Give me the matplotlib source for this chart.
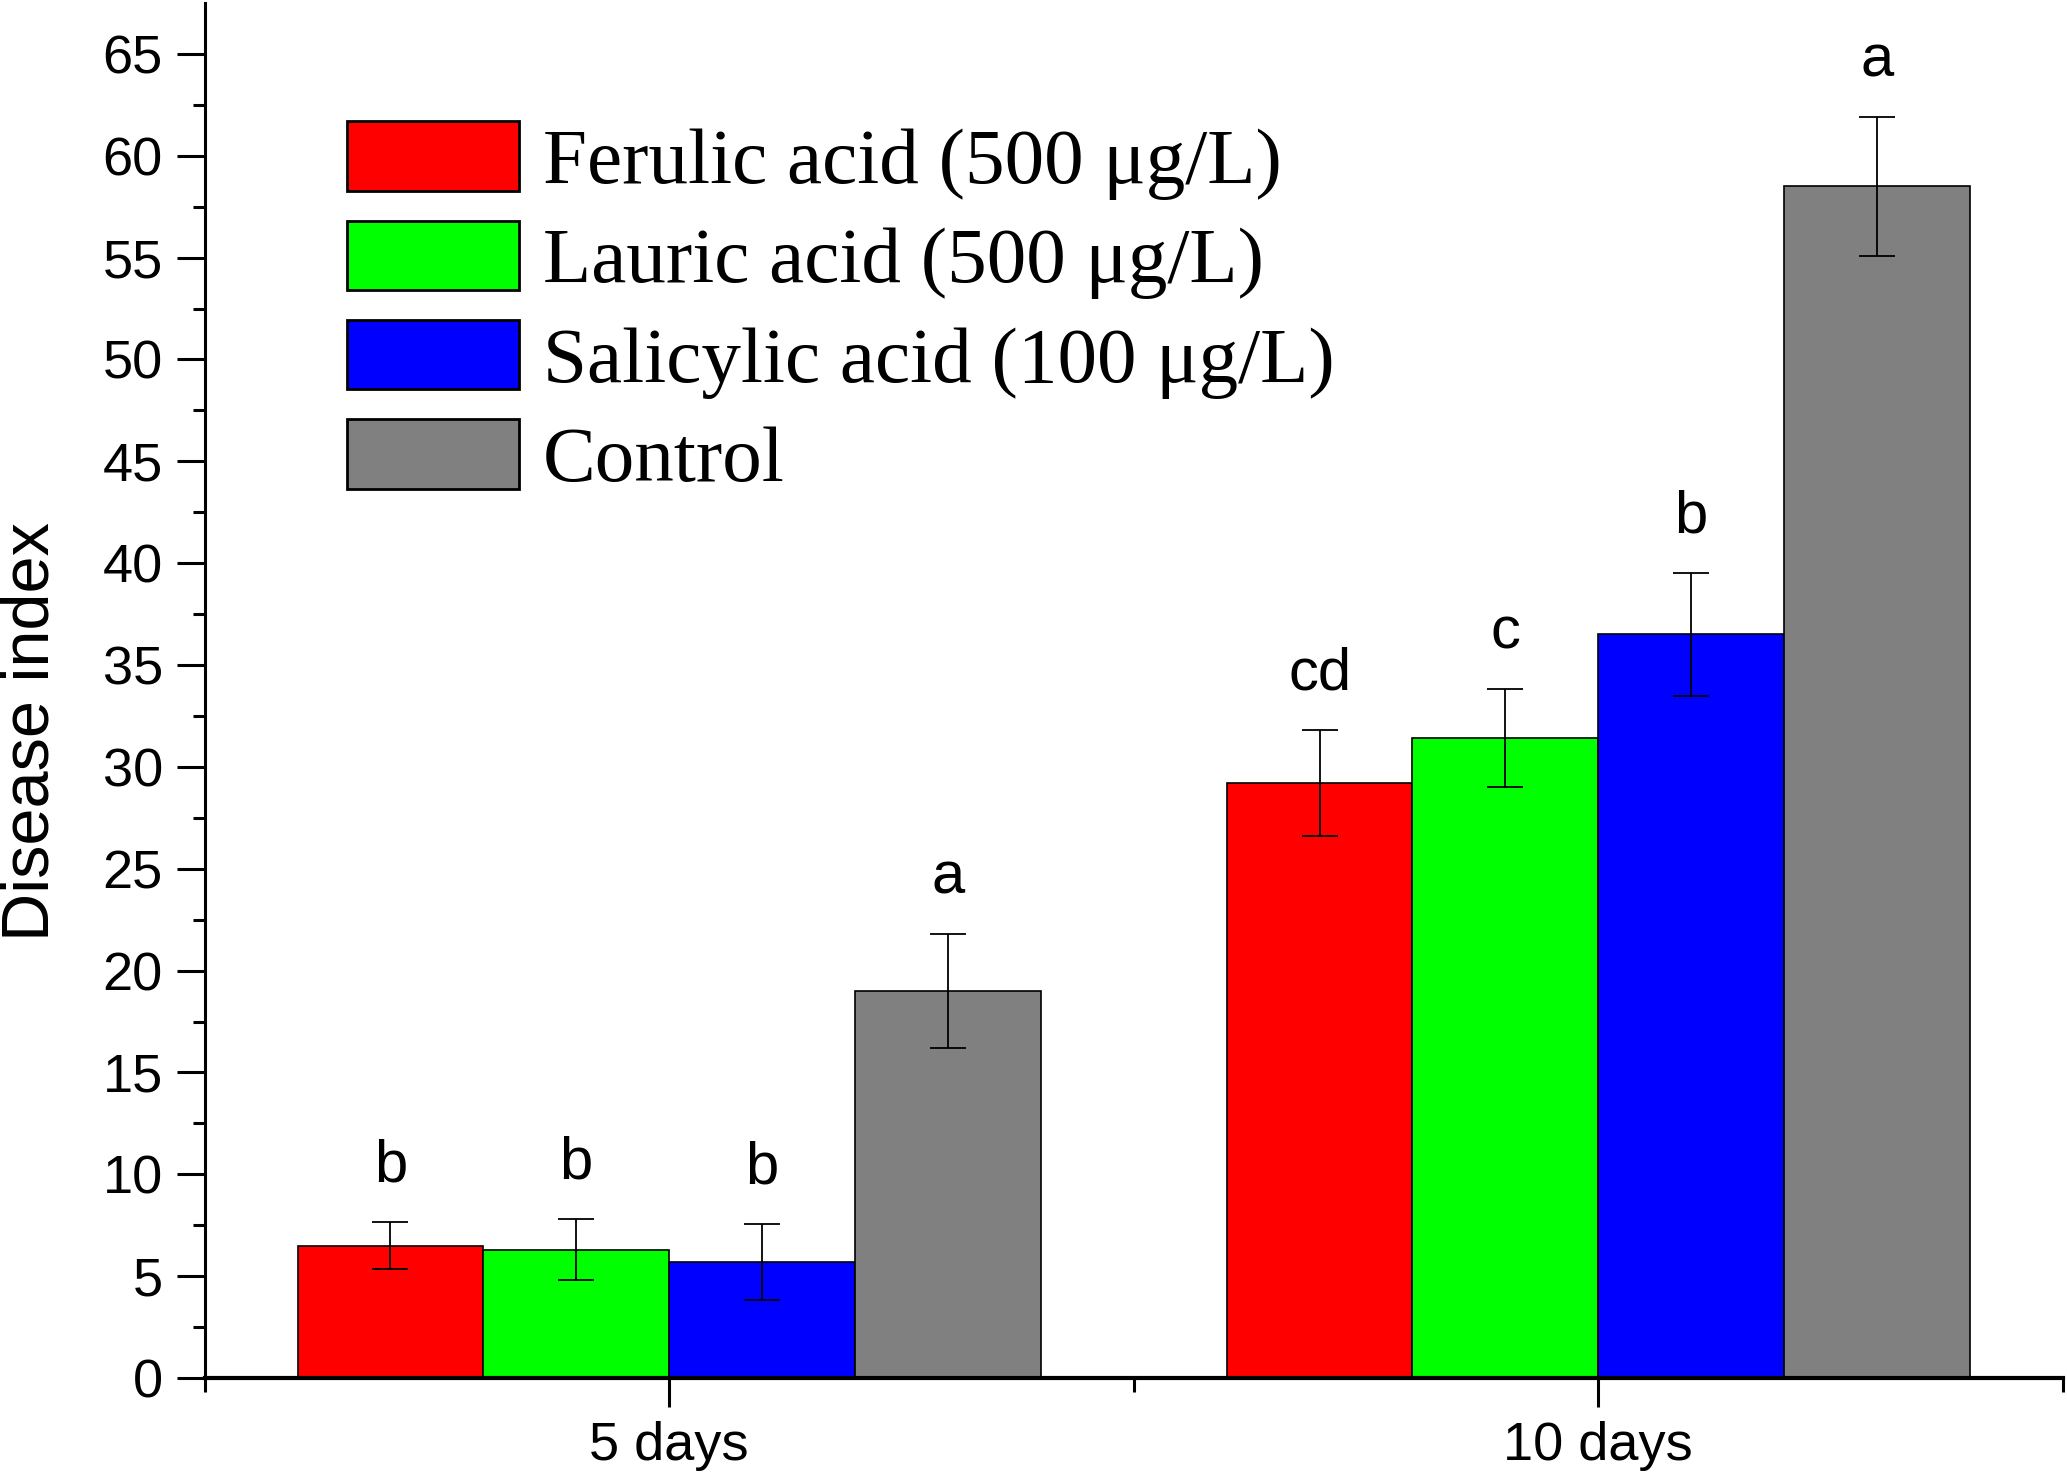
import numpy as np
import matplotlib
matplotlib.use("Agg")
from matplotlib import pyplot as plt

# dane
groups = ["5 days", "10 days"]
series = ["Ferulic acid (500 \u03bcg/L)", "Lauric acid (500 \u03bcg/L)",
          "Salicylic acid (100 \u03bcg/L)", "Control"]
colors = ["#FF0000", "#00FF00", "#0000FF", "#808080"]

ferulic = [6.5, 29.2]
lauric = [6.3, 31.4]
salicylic = [5.7, 36.5]
control = [19.0, 58.5]

ferulic_err = [1.15, 2.6]
lauric_err = [1.5, 2.4]
salicylic_err = [1.85, 3.0]
control_err = [2.8, 3.4]

ferulic_lit = ["b", "cd"]
lauric_lit = ["b", "c"]
salicylic_lit = ["b", "b"]
control_lit = ["a", "a"]

wartosci = [ferulic, lauric, salicylic, control]
bledy = [ferulic_err, lauric_err, salicylic_err, control_err]
litery = [ferulic_lit, lauric_lit, salicylic_lit, control_lit]

fig = plt.figure(figsize=(20.67, 14.77), dpi=100)
ax = fig.add_axes([0.099, 0.067, 0.899, 0.931])

x = np.arange(1, len(groups) + 1)
szer = 0.2
for i in range(4):
    pos = x + (i - 1.5) * szer
    ax.bar(pos, wartosci[i], szer, color=colors[i], edgecolor="black",
           linewidth=1.2, label=series[i], zorder=2)
    ax.errorbar(pos, wartosci[i], yerr=bledy[i], fmt="none", ecolor="black",
                elinewidth=1.3, capsize=13, capthick=1.3, zorder=3)
    for p, v, e, t in zip(pos, wartosci[i], bledy[i], litery[i]):
        ax.text(p, v + e + 2.0, t, ha="center", va="baseline",
                fontsize=43, family="Liberation Sans")

ax.set_xlim(0.5, 2.5)
ax.set_ylim(0, 67.5)
ax.set_xticks(x)
ax.set_xticklabels(groups)
ax.set_xticks([0.5, 1.5, 2.5], minor=True)
ax.set_yticks(np.arange(0, 66, 5))
ax.set_yticks(np.arange(2.5, 67.5, 5), minor=True)

for s in ["top", "right"]:
    ax.spines[s].set_visible(False)
ax.spines["left"].set_linewidth(2.2)
ax.spines["bottom"].set_linewidth(3.0)

ax.tick_params(axis="y", which="major", length=20, width=2.2, labelsize=39, pad=10)
ax.tick_params(axis="y", which="minor", length=9, width=2.2)
ax.tick_params(axis="x", which="major", length=21, width=2.2, labelsize=39, pad=10)
ax.tick_params(axis="x", which="minor", length=10, width=2.2)
for lab in ax.get_xticklabels() + ax.get_yticklabels():
    lab.set_family("Liberation Sans")

ax.set_ylabel("Disease index", fontsize=48, family="Liberation Sans")
ax.yaxis.set_label_coords(-0.0765, 0.47)

leg = ax.legend(loc="upper left", bbox_to_anchor=(0.0766, 0.914), frameon=False,
                prop={"family": "Liberation Serif", "size": 57},
                handlelength=2.17, handleheight=0.97, handletextpad=0.3,
                labelspacing=0.26, borderpad=0, borderaxespad=0)
for h in leg.legend_handles:
    h.set_linewidth(2.0)

fig.savefig("out.png", dpi=100)
